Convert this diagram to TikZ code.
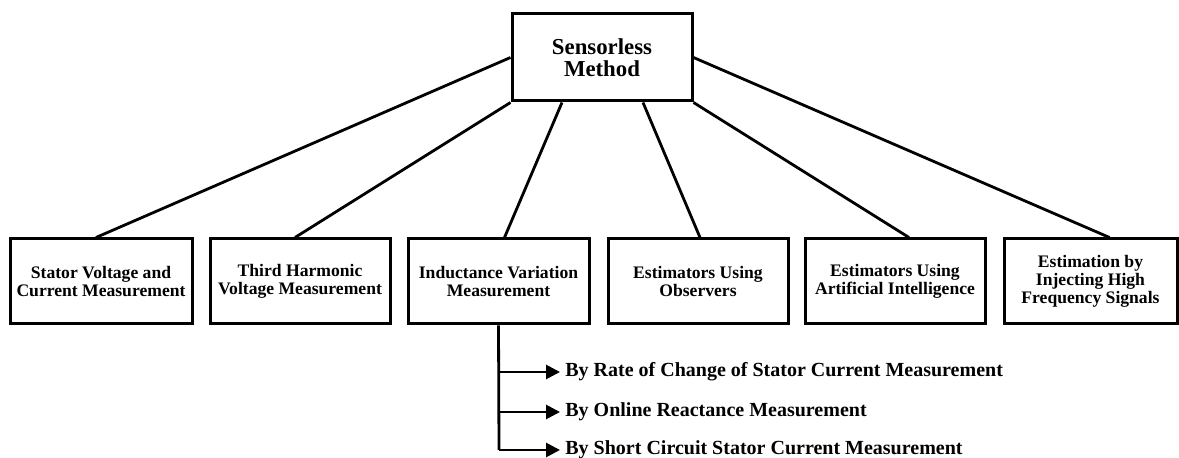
\documentclass[tikz,border=0pt]{standalone}
\usepackage{fontspec}
\setmainfont{Liberation Serif}
\usetikzlibrary{arrows.meta}

\tikzset{
  method/.style={draw, line width=1.5pt, inner sep=1pt, minimum height=42.5pt, align=center,
    font=\bfseries\fontsize{8.8}{8.9}\selectfont},
  branch/.style={line width=1.4pt},
  sub/.style={anchor=west, inner sep=2.5pt, font=\bfseries\fontsize{10}{10}\selectfont}
}

\begin{document}
\begin{tikzpicture}[x=0.5pt,y=-0.5pt]
		\useasboundingbox (0,0) rectangle (1179,458);

		\node[method, minimum width=90pt, minimum height=43.5pt, font=\bfseries\fontsize{11.4}{11}\selectfont] (sm) at (602,57.5) {Sensorless\\Method};

		\node[method, minimum width=91pt] (m1) at (101,281.5) {Stator Voltage and\\Current Measurement};
		\node[method, minimum width=90pt] (m2) at (300,281.5) {Third Harmonic\\Voltage Measurement};
		\node[method, minimum width=90.5pt] (m3) at (498.5,281.5) {Inductance Variation\\Measurement};
		\node[method, minimum width=90pt] (m4) at (698,281.5) {Estimators Using\\Observers};
		\node[method, minimum width=90pt] (m5) at (895,281.5) {Estimators Using\\Artificial Intelligence};
		\node[method, minimum width=86.5pt] (m6) at (1090.5,281.5) {Estimation by\\Injecting High\\Frequency Signals};

		\draw[branch] (sm.west) -- ([xshift=-2.5pt]m1.north);
		\draw[branch] (sm.south west) -- ([xshift=-2.5pt]m2.north);
		\draw[branch] ([xshift=-20pt]sm.south) -- ([xshift=3pt]m3.north);
		\draw[branch] ([xshift=20.5pt]sm.south) -- ([xshift=1pt]m4.north);
		\draw[branch] (sm.south east) -- ([xshift=7pt]m5.north);
		\draw[branch] (sm.east) -- ([xshift=9.5pt]m6.north);

		% ways of measuring the inductance variation
		\coordinate (b1) at (499,372);
		\coordinate (b2) at (499,412);
		\coordinate (b3) at (499,450);
		\node[sub] (r1) at (560,372) {By Rate of Change of Stator Current Measurement};
		\node[sub] (r2) at (560,412) {By Online Reactance Measurement};
		\node[sub] (r3) at (560,450) {By Short Circuit Stator Current Measurement};

		\draw[branch] (m3.south) -- (b3);
		\draw[branch,-{Triangle[length=7pt,width=7pt]}] (b1) -- (r1.west);
		\draw[branch,-{Triangle[length=7pt,width=7pt]}] (b2) -- (r2.west);
		\draw[branch,-{Triangle[length=7pt,width=7pt]}] (b3) -- (r3.west);
\end{tikzpicture}
\end{document}
